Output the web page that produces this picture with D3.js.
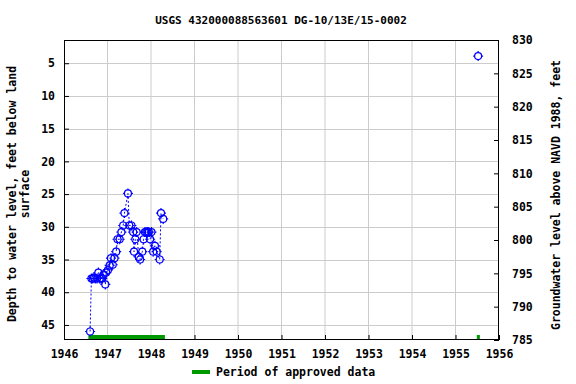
<!DOCTYPE html>
<html><head><meta charset="utf-8">
<script src="https://cdn.jsdelivr.net/npm/d3@7"></script>
<style>
body{margin:0;background:#fff;}
text{font-family:"DejaVu Sans Mono",monospace;font-weight:bold;fill:#000;}
</style></head>
<body><svg id="c" width="576" height="384"></svg>
<script>
const title = "USGS 432000088563601 DG-10/13E/15-0002";
const leftLabel = ["Depth to water level, feet below land", "surface"];
const rightLabel = "Groundwater level above NAVD 1988, feet";
const legendLabel = "Period of approved data";
const xTicks = [1946,1947,1948,1949,1950,1951,1952,1953,1954,1955,1956];
const depthTicks = [5,10,15,20,25,30,35,40,45];
const elevTicks = [785,790,795,800,805,810,815,820,825,830];
// measurement dates (decimal year) and depths (ft below land surface)
const dates = [1946.60,1946.63,1946.66,1946.69,1946.72,1946.76,1946.79,1946.82,1946.85,1946.88,
  1946.91,1946.95,1946.97,1947.01,1947.05,1947.08,1947.12,1947.16,1947.20,1947.23,
  1947.28,1947.32,1947.36,1947.39,1947.47,1947.50,1947.55,1947.59,1947.61,1947.64,
  1947.67,1947.72,1947.75,1947.80,1947.83,1947.86,1947.89,1947.92,1947.95,1947.98,
  1948.01,1948.05,1948.09,1948.13,1948.20,1948.23,1948.28,1955.52];
const depths = [46.0,37.9,37.9,37.8,37.9,37.9,37.0,37.9,37.9,37.9,
  37.3,38.8,37.0,36.6,35.9,34.8,35.8,34.8,33.8,31.9,
  31.9,30.8,29.8,27.9,24.9,29.8,29.8,30.8,33.8,31.9,
  30.8,34.6,35.0,33.8,31.9,30.8,30.8,30.8,30.8,31.9,
  30.8,33.8,32.9,33.8,35.0,27.9,28.8,3.9];
// approved-data periods [start, end]
const approvedStart = [1946.56, 1955.49];
const approvedEnd = [1948.32, 1955.56];

const svg = d3.select("#c");
const L = 64, R = 499, T = 40, B = 340;
const x = d3.scaleLinear().domain([1946,1956]).range([L,R]);
const y = d3.scaleLinear().domain([1.45,47.3]).range([T,B]);
const y2 = d3.scaleLinear().domain([830,785]).range([T,B]);

// grid
const g = svg.append("g");
g.selectAll(".vg").data(xTicks.slice(1,-1)).enter().append("line")
  .attr("x1",d=>x(d)).attr("x2",d=>x(d)).attr("y1",T).attr("y2",B)
  .attr("stroke","#cccccc").attr("stroke-width",1);
g.selectAll(".hg").data(depthTicks).enter().append("line")
  .attr("x1",L).attr("x2",R).attr("y1",d=>Math.round(y(d))+0.5).attr("y2",d=>Math.round(y(d))+0.5)
  .attr("stroke","#cccccc").attr("stroke-width",1);

// axes (inward ticks)
const ax = svg.append("g").attr("transform",`translate(0,${B})`)
  .call(d3.axisBottom(x).tickValues(xTicks).tickFormat(d3.format("d")).tickSizeInner(-5).tickSizeOuter(0).tickPadding(10));
const ay = svg.append("g").attr("transform",`translate(${L},0)`)
  .call(d3.axisLeft(y).tickValues(depthTicks).tickSizeInner(-5).tickSizeOuter(0).tickPadding(9));
const ay2 = svg.append("g").attr("transform",`translate(${R},0)`)
  .call(d3.axisRight(y2).tickValues(elevTicks).tickSizeInner(-5).tickSizeOuter(0).tickPadding(13));
[ax,ay,ay2].forEach(a=>{
  a.selectAll("text").style("font-family","DejaVu Sans Mono").style("font-weight","bold").style("font-size","11.5px").attr("fill","#000");
  a.select(".domain").remove();
});
svg.append("rect").attr("x",L+0.5).attr("y",T+0.5).attr("width",R-L-1).attr("height",B-T-1)
  .attr("fill","none").attr("stroke","#000").attr("stroke-width",1);

// approved periods
svg.selectAll(".ap").data(approvedStart).enter().append("line")
  .attr("x1",d=>x(d)).attr("x2",(d,i)=>x(approvedEnd[i])).attr("y1",337).attr("y2",337)
  .attr("stroke","#009900").attr("stroke-width",4);

// data
const pts = dates.map((d,i)=>({t:d, v:depths[i]}));
const segs = [];
pts.forEach((p,i)=>{ if(i===0 || p.t - pts[i-1].t > 1) segs.push([]); segs[segs.length-1].push(p); });
const line = d3.line().x(d=>x(d.t)).y(d=>y(d.v));
svg.selectAll(".seg").data(segs.filter(s=>s.length>1)).enter().append("path")
  .attr("d",line).attr("fill","none").attr("stroke","#0000ff").attr("stroke-width",1).attr("stroke-dasharray","2,2");
const m = svg.selectAll(".pt").data(pts).enter().append("g")
  .attr("transform",d=>`translate(${x(d.t)},${y(d.v)})`);
m.append("circle").attr("r",3.5).attr("fill","none").attr("stroke","#0000ff").attr("stroke-width",1.2);
m.append("path").attr("d","M0,-3.5V-5M0,3.5V5M-3.5,0H-5M3.5,0H5").attr("stroke","#0000ff").attr("stroke-width",1.2);

// titles
svg.append("text").attr("x",281).attr("y",24).attr("text-anchor","middle").style("font-size","11px").text(title);
svg.append("text").attr("transform","translate(16,194) rotate(-90)").attr("text-anchor","middle").style("font-size","11.5px").text(leftLabel[0]);
svg.append("text").attr("transform","translate(29,194) rotate(-90)").attr("text-anchor","middle").style("font-size","11.5px").text(leftLabel[1]);
svg.append("text").attr("transform","translate(560,195) rotate(-90)").attr("text-anchor","middle").style("font-size","11.5px").text(rightLabel);

// legend
svg.append("line").attr("x1",192).attr("x2",210).attr("y1",372).attr("y2",372).attr("stroke","#009900").attr("stroke-width",4);
svg.append("text").attr("x",216).attr("y",376).style("font-size","11.5px").text(legendLabel);
</script></body></html>
